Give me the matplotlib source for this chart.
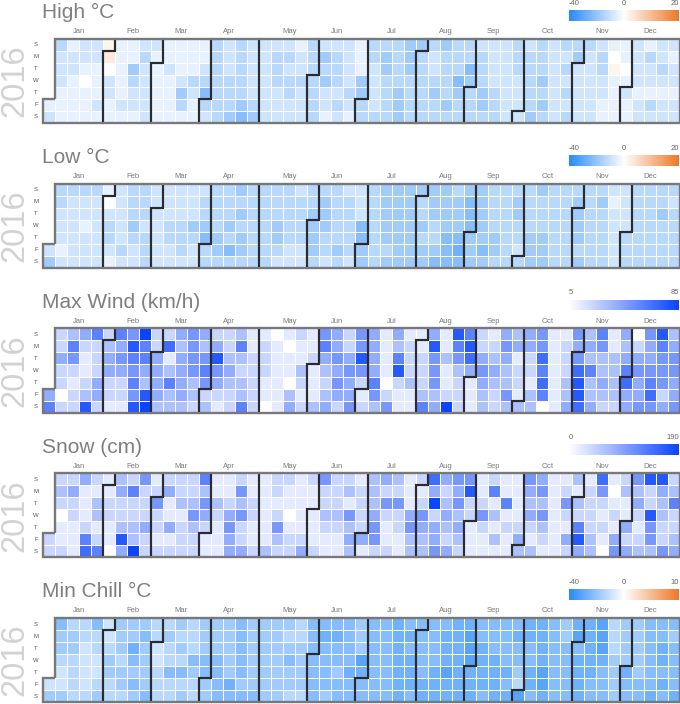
import datetime as dt
import numpy as np
import matplotlib
matplotlib.use("Agg")
import matplotlib.pyplot as plt
from matplotlib.colors import LinearSegmentedColormap, TwoSlopeNorm, Normalize
from matplotlib.path import Path
from matplotlib.patches import PathPatch

plt.rcParams["font.family"] = ["Liberation Sans", "DejaVu Sans"]

YEAR = 2016
DAY_LABELS = ["S", "M", "T", "W", "T", "F", "S"]
MONTH_LABELS = ["Jan", "Feb", "Mar", "Apr", "May", "Jun",
                "Jul", "Aug", "Sep", "Oct", "Nov", "Dec"]

# Values, one string per calendar week (Sun..Sat).
# Each character is a read intensity level 0-9 of the panel's colour scale
# ('.' = no day, 'a'/'b' = slightly above zero on the warm side).
HIGH_WEEKS = [
    ".....12", "3222111", "1221111", "2210111", "2211121", "ab02211", "1111121",
    "1143221", "2322222", "2111111", "1121111", "1112431", "1113211", "1123532",
    "3333333", "2223334", "3333345", "2222234", "2222222", "2333222", "2323322",
    "1223222", "3333333", "2434221", "2333232", "2222321", "1114433", "3322223",
    "3443333", "3333444", "4443333", "4333333", "3223433", "4333343", "3335433",
    "3354333", "2333443", "2222333", "2222222", "3332222", "2333334", "3334343",
    "2222222", "3232323", "3422222", "3222222", "2332211", "10a1111", "1101211",
    "2222122", "1322132", "2232122", "2122122",
]
LOW_WEEKS = [
    ".....24", "3322212", "3222222", "3221222", "3222222", "1023321", "2222232",
    "3334322", "3332333", "2222222", "2223322", "2223332", "2224322", "2334533",
    "3333443", "3334353", "4343443", "3333333", "3333333", "3334432", "3333322",
    "2333322", "3344443", "3444332", "3333343", "2333332", "2225544", "3333333",
    "4444434", "4444444", "4444444", "4334344", "4443345", "4444555", "3444565",
    "4555444", "4444454", "3333443", "3333333", "3443323", "3333444", "4333444",
    "3333333", "3333333", "3444434", "3333333", "3433333", "2122222", "2222333",
    "3333333", "3333333", "3343333", "3233333",
]
WIND_WEEKS = [
    ".....46", "2242202", "3652122", "4211238", "6222442", "2344221", "6454221",
    "5865658", "9664389", "2244443", "2713633", "4344443", "5555332", "4356523",
    "2485421", "2234322", "3632336", "1122222", "1222110", "0111111", "1011034",
    "2113212", "1121113", "5643234", "4454542", "2245445", "5585212", "4444653",
    "1111025", "4368211", "1222311", "1122236", "4855534", "1131129", "8653222",
    "6874111", "2245433", "1234322", "4543353", "3412213", "4422133", "5576760",
    "1111111", "1222334", "5457887", "3436334", "6533432", "1133332", "4346744",
    "0245445", "5445675", "8655524", "3455445",
]
SNOW_WEEKS = [
    ".....22", "2320112", "2422111", "4111267", "2133126", "1122110", "3422384",
    "2622339", "5222422", "1252212", "2411412", "2231222", "2235322", "6354211",
    "1132111", "1124544", "2535224", "1122112", "1111113", "2212532", "2110122",
    "1111124", "2111112", "5223211", "2223211", "2315343", "1222241", "3334552",
    "4252112", "3252211", "1114533", "2125433", "7492445", "4234324", "5453432",
    "5822111", "1125211", "2613131", "1161211", "1111243", "5434213", "4535321",
    "1111111", "1252142", "3132684", "1222233", "7521210", "1012145", "2311424",
    "5342123", "8228553", "8433225", "2362234",
]
CHILL_WEEKS = [
    ".....24", "5443224", "3443333", "3322223", "5332234", "2234433", "4443443",
    "4465454", "4544445", "3322333", "3433533", "4343534", "3335433", "4445544",
    "4445555", "4444465", "5555545", "4444445", "4444444", "4444444", "4345443",
    "3344443", "5555555", "5655554", "5655455", "5555655", "4447655", "5555555",
    "5555555", "6666666", "5656665", "5555566", "5555666", "5666766", "6666666",
    "6777666", "5566665", "5556666", "5555656", "5655437", "6655665", "6666776",
    "5555555", "4455555", "6756666", "6666655", "7776555", "3334444", "4444655",
    "4444455", "5555556", "5566565", "5455556",
]

BLUE_T = "#2a8af7"
ORANGE_T = "#f07828"
BLUE_W = "#0a44ff"

temp_cmap = LinearSegmentedColormap.from_list("t", [BLUE_T, "#ffffff", ORANGE_T])
wind_cmap = LinearSegmentedColormap.from_list("w", ["#ffffff", BLUE_W])

# (title, weeks, zero value, value at level 9, warm letters, norm, cmap, ticks)
PANELS = [
    ("High °C", HIGH_WEEKS, 0, -40, {"a": 1.5, "b": 3.0},
     TwoSlopeNorm(0, -40, 20), temp_cmap, [-40, 0, 20]),
    ("Low °C", LOW_WEEKS, 0, -40, {}, TwoSlopeNorm(0, -40, 20), temp_cmap, [-40, 0, 20]),
    ("Max Wind (km/h)", WIND_WEEKS, 5, 85, {}, Normalize(5, 85), wind_cmap, [5, 85]),
    ("Snow (cm)", SNOW_WEEKS, 0, 190, {}, Normalize(0, 190), wind_cmap, [0, 190]),
    ("Min Chill °C", CHILL_WEEKS, 0, -40, {}, TwoSlopeNorm(0, -40, 10), temp_cmap, [-40, 0, 10]),
]

W, H = 680, 704
fig = plt.figure(figsize=(W / 100, H / 100), dpi=100)
fig.patch.set_facecolor("white")

jan1 = dt.date(YEAR, 1, 1)
offset = (jan1.weekday() + 1) % 7  # Sunday = 0


def pos(d):
    doy = (d - jan1).days
    return (doy + offset) // 7, (d.weekday() + 1) % 7


def outline(first, last):
    w0, d0 = pos(first)
    w1, d1 = pos(last)
    verts = [(w0 + 1, d0), (w0, d0), (w0, 7), (w1, 7), (w1, d1 + 1),
             (w1 + 1, d1 + 1), (w1 + 1, 0), (w0 + 1, 0), (w0 + 1, d0)]
    return Path(verts)


month_ranges = []
for m in range(1, 13):
    first = dt.date(YEAR, m, 1)
    last = (dt.date(YEAR + (m == 12), m % 12 + 1, 1) - dt.timedelta(days=1))
    month_ranges.append((first, last))

NW = 53
GRID_LEFT, GRID_W = 43, 637
CELL_H = 12
for i, (title, weeks, base, end, warm, norm, cmap, ticks) in enumerate(PANELS):
    top = 39 + 144.75 * i
    ax = fig.add_axes([GRID_LEFT / W, 1 - (top + 7 * CELL_H) / H,
                       GRID_W / W, 7 * CELL_H / H])
    vals = np.full((7, NW), np.nan)
    for w, s in enumerate(weeks):
        for d, ch in enumerate(s):
            if ch == ".":
                continue
            if ch in warm:
                vals[d, w] = warm[ch]
            else:
                vals[d, w] = base + (end - base) * int(ch) / 9.0
    ax.pcolormesh(np.arange(NW + 1), np.arange(8), np.ma.masked_invalid(vals),
                  cmap=cmap, norm=norm, edgecolors="white", linewidth=0.5)
    ax.set_xlim(0, NW)
    ax.set_ylim(7, 0)
    ax.axis("off")

    for first, last in month_ranges:
        ax.add_patch(PathPatch(outline(first, last), fill=False, edgecolor="#2b2b2b",
                               lw=1.5, joinstyle="miter", clip_on=False, zorder=3))
    ax.add_patch(PathPatch(outline(jan1, dt.date(YEAR, 12, 31)), fill=False,
                           edgecolor="#787878", lw=1.6, joinstyle="miter",
                           clip_on=False, zorder=4))

    for k, (first, last) in enumerate(month_ranges):
        c = (pos(first)[0] + pos(last)[0] + 1) / 2
        ax.text(c, -0.6, MONTH_LABELS[k], ha="center", va="center",
                fontsize=5.5, color="#7a7a7a")
    for d, lab in enumerate(DAY_LABELS):
        ax.text(-0.58, d + 0.5, lab, ha="center", va="center",
                fontsize=4.3, color="#555555")
    ax.text(-2.35, 3.5, str(YEAR), rotation=90, ha="center", va="center",
            fontsize=23.5, color="#d2d2d2")
    ax.text(-0.05, -1.72, title, ha="left", va="baseline",
            fontsize=15, color="#7f7f7f")

    # legend bar
    lax = fig.add_axes([569 / W, 1 - (top - 18) / H, 110 / W, 11 / H])
    grad = norm.inverse(np.linspace(0, 1, 256))
    lax.imshow(np.asarray(grad)[None, :], cmap=cmap, norm=norm, aspect="auto",
               extent=[0, 1, 0, 1])
    lax.set_xlim(0, 1)
    lax.set_ylim(0, 1)
    lax.axis("off")
    for t in ticks:
        x = float(norm(t))
        ha = "left" if x < 0.01 else ("right" if x > 0.99 else "center")
        lax.text(x, 1.6, str(t), ha=ha, va="center", fontsize=5.5,
                 color="#666666", transform=lax.transAxes)

fig.savefig("out.png", dpi=100, facecolor="white")
